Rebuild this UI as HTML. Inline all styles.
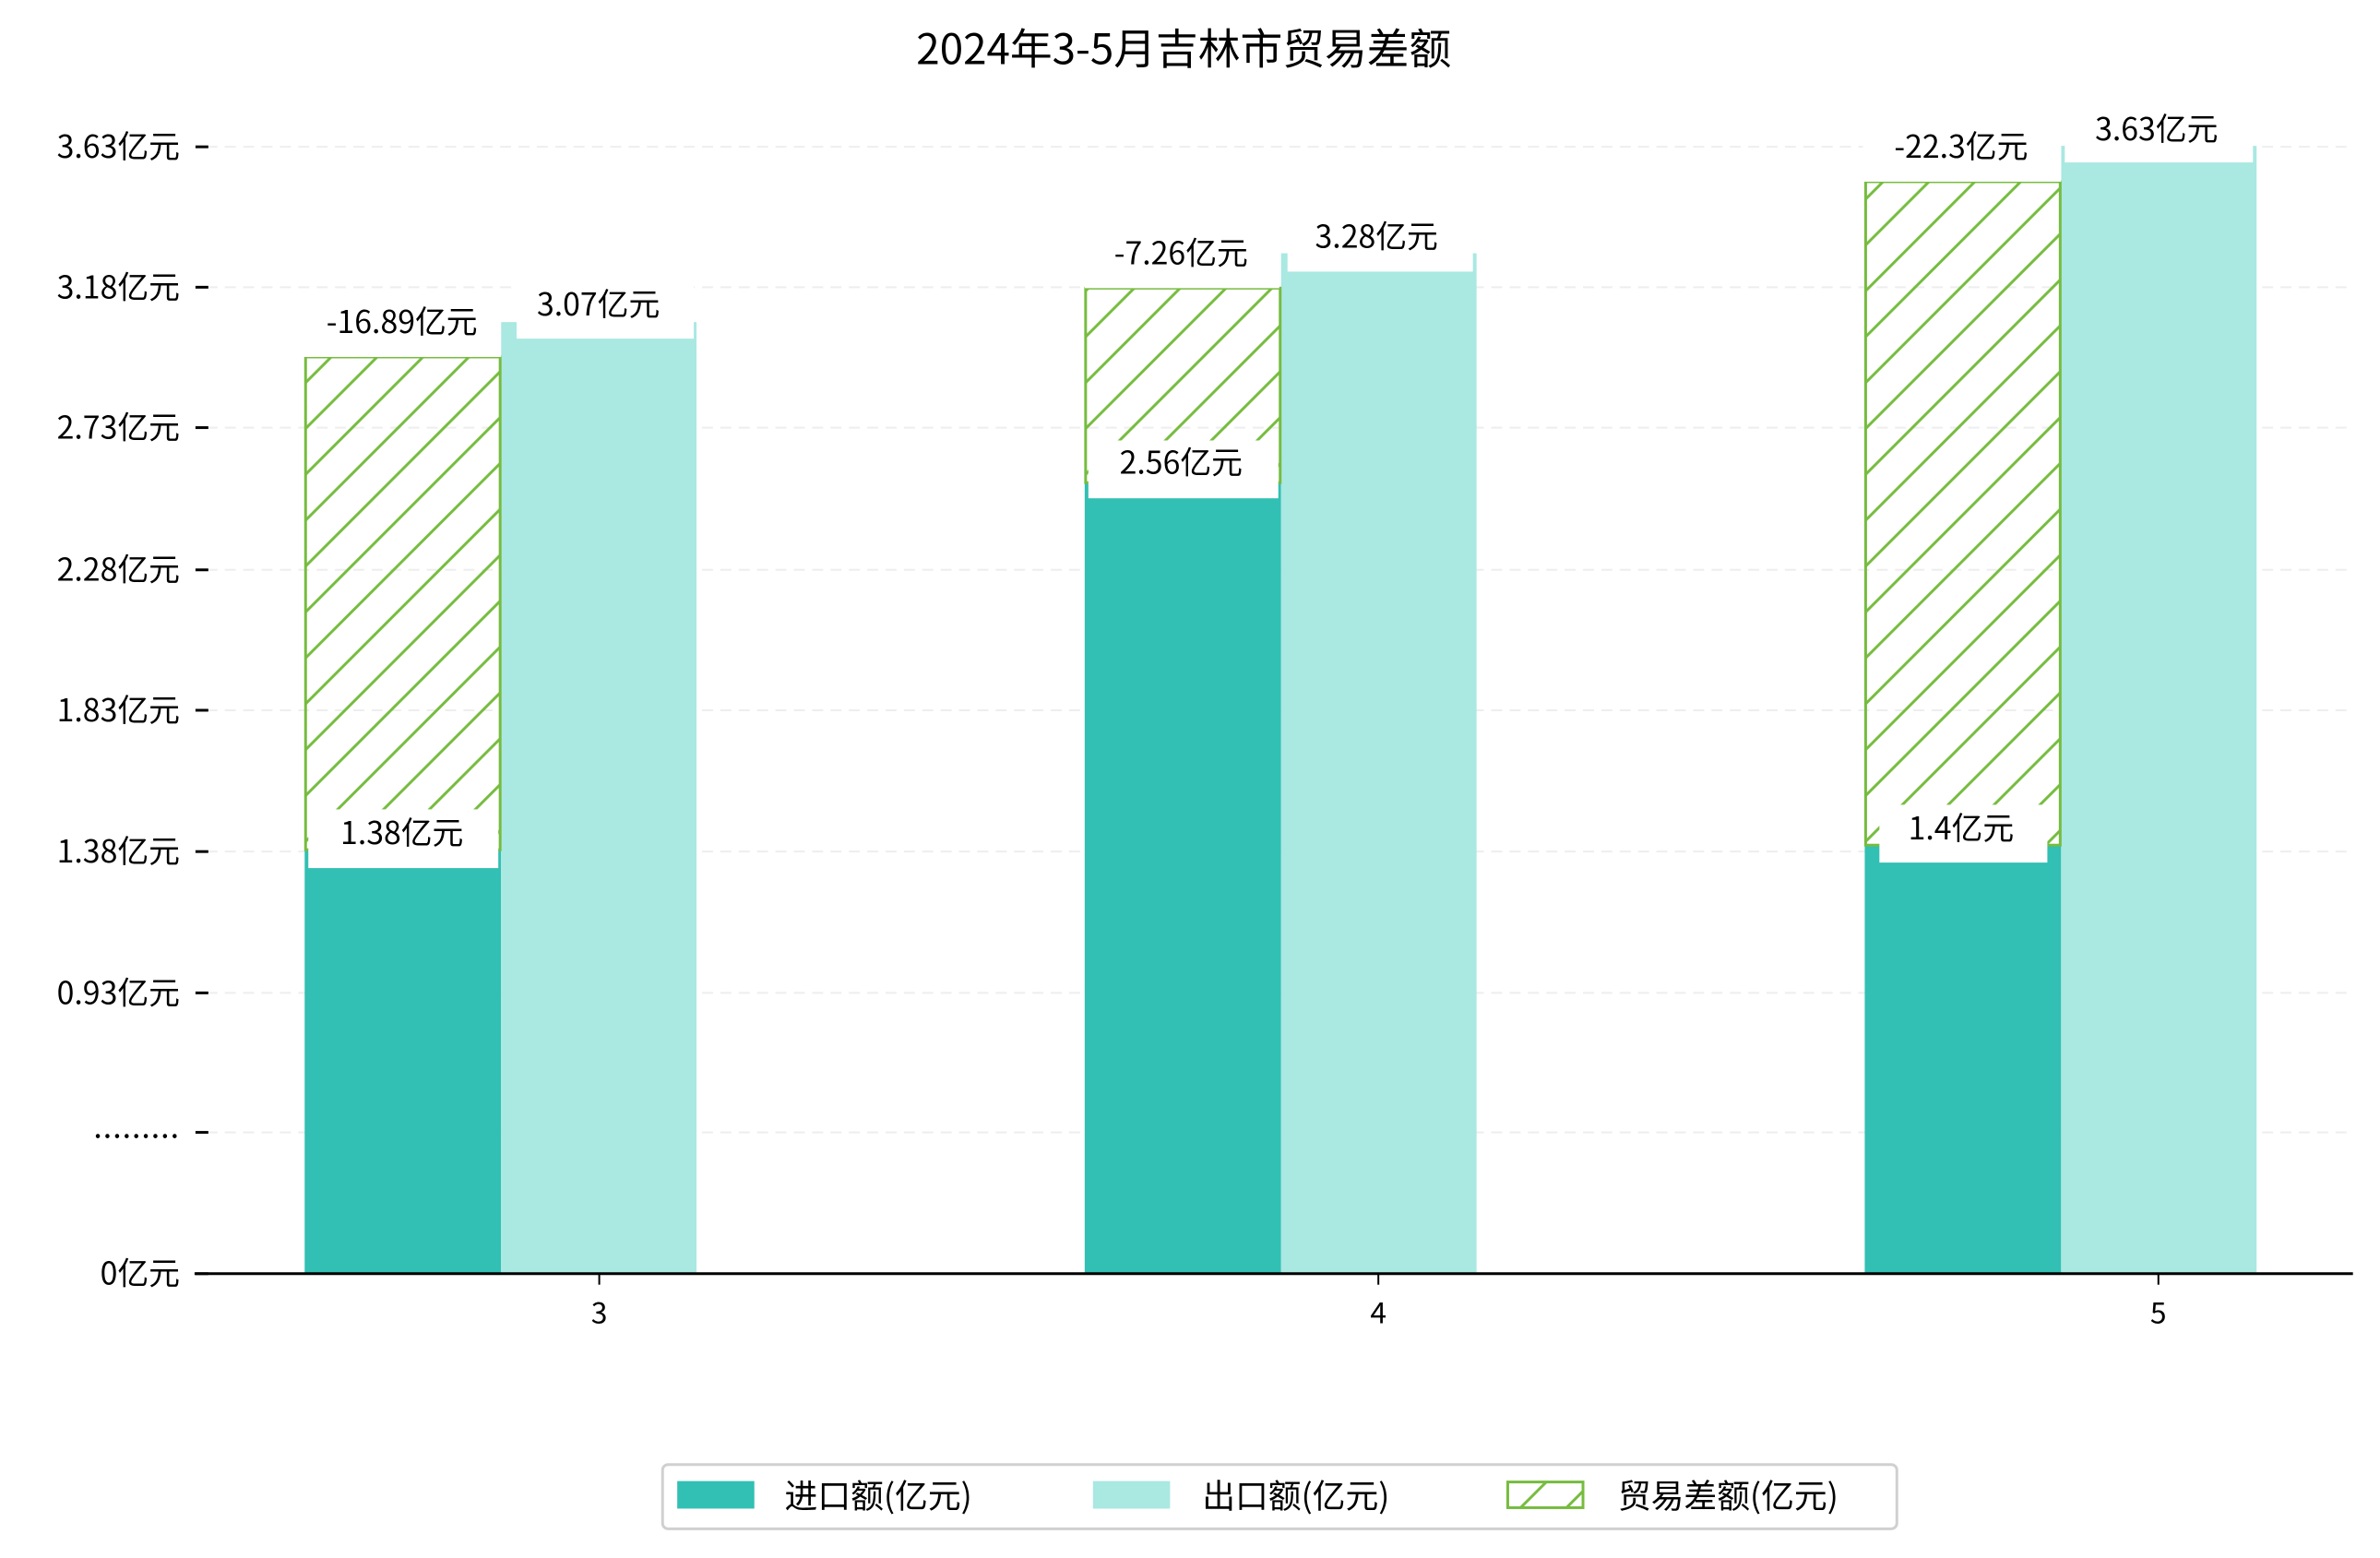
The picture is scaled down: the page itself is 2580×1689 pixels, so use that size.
<!DOCTYPE html>
<html><head><meta charset="utf-8"><style>
html,body{margin:0;padding:0;background:#fff}
svg{display:block}
text{font-family:"WenQuanYi Zen Hei","Noto Sans CJK SC",sans-serif;fill:#000}
</style></head><body>
<svg width="2580" height="1689" viewBox="0 0 2580 1689" xmlns="http://www.w3.org/2000/svg">
<defs>
<pattern id="h" patternUnits="userSpaceOnUse" width="50" height="50">
<path d="M-5,55 L55,-5 M-30,30 L30,-30 M20,80 L80,20" stroke="#76bc3f" stroke-width="3"/>
</pattern>
</defs>
<g transform="scale(0.9948)">
<text x="1290" y="70" font-size="46" text-anchor="middle">2024年3-5月吉林市贸易差额</text>
<g stroke="#eeeeee" stroke-width="2" stroke-dasharray="12,8">
<line x1="225" x2="2564" y1="160" y2="160"/><line x1="225" x2="2564" y1="313" y2="313"/>
<line x1="225" x2="2564" y1="466" y2="466"/><line x1="225" x2="2564" y1="621" y2="621"/>
<line x1="225" x2="2564" y1="774" y2="774"/><line x1="225" x2="2564" y1="928" y2="928"/>
<line x1="225" x2="2564" y1="1082" y2="1082"/><line x1="225" x2="2564" y1="1234" y2="1234"/>
</g>
<g stroke="#000" stroke-width="3">
<line x1="213" x2="227" y1="160" y2="160"/><line x1="213" x2="227" y1="313" y2="313"/>
<line x1="213" x2="227" y1="466" y2="466"/><line x1="213" x2="227" y1="621" y2="621"/>
<line x1="213" x2="227" y1="774" y2="774"/><line x1="213" x2="227" y1="928" y2="928"/>
<line x1="213" x2="227" y1="1082" y2="1082"/><line x1="213" x2="227" y1="1234" y2="1234"/>
<line x1="213" x2="227" y1="1388" y2="1388"/>
</g>
<g font-size="34" text-anchor="end">
<text x="196" y="172">3.63亿元</text><text x="196" y="325">3.18亿元</text>
<text x="196" y="478">2.73亿元</text><text x="196" y="633">2.28亿元</text>
<text x="196" y="786">1.83亿元</text><text x="196" y="940">1.38亿元</text>
<text x="196" y="1094">0.93亿元</text><text x="196" y="1240" letter-spacing="1">.........</text>
<text x="196" y="1400">0亿元</text>
</g>
<g>
<rect x="332" y="926" width="214" height="462" fill="#31c0b3"/>
<rect x="546" y="351" width="213" height="1037" fill="#aae8e2"/>
<rect x="1182" y="526" width="214" height="862" fill="#31c0b3"/>
<rect x="1396" y="276" width="213" height="1112" fill="#aae8e2"/>
<rect x="2032" y="921" width="214" height="467" fill="#31c0b3"/>
<rect x="2246" y="159" width="213" height="1229" fill="#aae8e2"/>
<rect x="333" y="389" width="212" height="537" fill="url(#h)" stroke="#76bc3f" stroke-width="3"/>
<rect x="1183" y="314" width="212" height="212" fill="url(#h)" stroke="#76bc3f" stroke-width="3"/>
<rect x="2033" y="198" width="212" height="723" fill="url(#h)" stroke="#76bc3f" stroke-width="3"/>
</g>
<g fill="#fff">
<rect x="331" y="326" width="215" height="63"/>
<rect x="563" y="309" width="193" height="60"/>
<rect x="336" y="882" width="207" height="64"/>
<rect x="1182" y="248" width="212" height="66"/>
<rect x="1403" y="232" width="202" height="64"/>
<rect x="1186" y="480" width="207" height="63"/>
<rect x="2030" y="134" width="216" height="64"/>
<rect x="2250" y="116" width="205" height="61"/>
<rect x="2048" y="877" width="183" height="63"/>
</g>
<g font-size="34" text-anchor="middle">
<text x="438" y="363">-16.89亿元</text>
<text x="652" y="344">3.07亿元</text>
<text x="438" y="920">1.38亿元</text>
<text x="1287" y="288">-7.26亿元</text>
<text x="1500" y="270">3.28亿元</text>
<text x="1287" y="516">2.56亿元</text>
<text x="2137" y="172">-22.3亿元</text>
<text x="2350" y="153">3.63亿元</text>
<text x="2137" y="915">1.4亿元</text>
</g>
<line x1="212" x2="2564" y1="1388" y2="1388" stroke="#000" stroke-width="3"/>
<g stroke="#000" stroke-width="2">
<line x1="653" x2="653" y1="1388" y2="1400"/><line x1="1502" x2="1502" y1="1388" y2="1400"/><line x1="2352" x2="2352" y1="1388" y2="1400"/>
</g>
<g font-size="32" text-anchor="middle">
<text x="653" y="1442">3</text><text x="1502" y="1442">4</text><text x="2352" y="1442">5</text>
</g>
<rect x="722" y="1596" width="1345" height="70" rx="6" fill="#fff" stroke="#d0d0d0" stroke-width="3"/>
<rect x="738" y="1614" width="84" height="30" fill="#31c0b3"/>
<rect x="1191" y="1614" width="84" height="30" fill="#aae8e2"/>
<rect x="1643" y="1615" width="82" height="28" fill="url(#h)" stroke="#76bc3f" stroke-width="3"/>
<g font-size="36">
<text x="855" y="1643">进口额(亿元)</text>
<text x="1310" y="1643">出口额(亿元)</text>
<text x="1763" y="1643">贸易差额(亿元)</text>
</g>
</g>
</svg>
</body></html>
